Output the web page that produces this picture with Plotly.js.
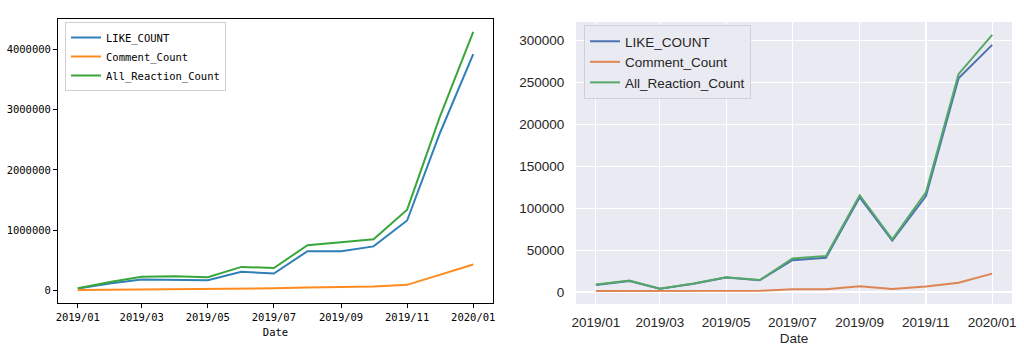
<!DOCTYPE html>
<html>
<head>
<meta charset="utf-8">
<script src="https://cdn.plot.ly/plotly-3.0.1.min.js"></script>
<style>html,body{margin:0;padding:0;background:#fff;}#chart{width:1024px;height:357px;}</style>
</head>
<body>
<div id="chart"></div>
<script>
// Monthly dates
const months = ['2019-01-01','2019-02-01','2019-03-01','2019-04-01','2019-05-01','2019-06-01','2019-07-01',
                '2019-08-01','2019-09-01','2019-10-01','2019-11-01','2019-12-01','2020-01-01'];
const seriesNames = ['LIKE_COUNT','Comment_Count','All_Reaction_Count'];

// Left chart values
const leftLike    = [30000,120000,180000,180000,170000,310000,280000,650000,650000,730000,1160000,2600000,3920000];
const leftComment = [5000,10000,20000,25000,20000,30000,35000,50000,60000,65000,92000,260000,430000];
const leftAll     = [35000,145000,225000,235000,220000,390000,370000,750000,800000,850000,1340000,2870000,4290000];

// Right chart values
const rightLike    = [8500,13200,3800,10000,17300,14000,38000,41000,113000,61500,114500,255000,295000];
const rightComment = [1200,1300,1000,1300,1600,1400,3300,3300,6800,3500,6500,11000,22000];
const rightAll     = [9000,13600,4000,10300,17600,14300,40000,43000,115500,63000,119000,260000,307000];

// Tick labels
const xTickVals = ['2019-01-01','2019-03-01','2019-05-01','2019-07-01','2019-09-01','2019-11-01','2020-01-01'];
const xTickText = ['2019/01','2019/03','2019/05','2019/07','2019/09','2019/11','2020/01'];
const leftYTicks = [0,1000000,2000000,3000000,4000000];
const rightYTicks = [0,50000,100000,150000,200000,250000,300000];

const leftColors = ['#2f7fb8','#ff8a1e','#3aa63a'];
const rightColors = ['#4c72b0','#dd8452','#55a868'];

function pad(vals, frac){
  const mn = Math.min(...vals), mx = Math.max(...vals), s = mx - mn;
  return [mn - s*frac, mx + s*frac];
}
const t0 = new Date('2019-01-01T00:00:00Z').getTime(), t1 = new Date('2020-01-01T00:00:00Z').getTime();
const dt = (t1 - t0) * 0.05;
const iso = t => new Date(t).toISOString().replace('T',' ').replace('Z','').slice(0,19);
const xRange = [iso(t0 - dt), iso(t1 + dt)];

const monoFont = 'DejaVu Sans Mono, Liberation Mono, monospace';
const sansFont = 'Liberation Sans, Arial, sans-serif';

const leftData = [leftLike, leftComment, leftAll];
const rightData = [rightLike, rightComment, rightAll];
const traces = [];
leftData.forEach((d,i)=>traces.push({x:months,y:d,name:seriesNames[i],type:'scatter',mode:'lines',
  line:{color:leftColors[i],width:2},xaxis:'x',yaxis:'y',legend:'legend'}));
rightData.forEach((d,i)=>traces.push({x:months,y:d,name:seriesNames[i],type:'scatter',mode:'lines',
  line:{color:rightColors[i],width:2},xaxis:'x2',yaxis:'y2',legend:'legend2'}));

const layout = {
  width:1024, height:357,
  margin:{l:0,r:0,t:0,b:0},
  paper_bgcolor:'#ffffff', plot_bgcolor:'#ffffff',
  showlegend:true,
  shapes:[{type:'rect',xref:'x2 domain',yref:'y2 domain',x0:0,x1:1,y0:0,y1:1,fillcolor:'#eaeaf2',line:{width:0},layer:'below'}],
  xaxis:{domain:[58/1024,493/1024],anchor:'y',type:'date',range:xRange,
    tickvals:xTickVals,ticktext:xTickText,ticks:'outside',ticklen:4,tickcolor:'#000',
    showgrid:false,zeroline:false,showline:true,linecolor:'#000',linewidth:1,mirror:true,
    tickfont:{family:monoFont,size:10.5,color:'#000'},
    title:{text:'Date',font:{family:monoFont,size:10.5,color:'#000'},standoff:7},automargin:false},
  yaxis:{domain:[1-303/357,1-19/357],anchor:'x',range:pad(leftAll.concat(leftComment),0.05),
    tickvals:leftYTicks,tickformat:'d',ticks:'outside',ticklen:4,tickcolor:'#000',
    showgrid:false,zeroline:false,showline:true,linecolor:'#000',linewidth:1,mirror:true,
    tickfont:{family:monoFont,size:10.5,color:'#000'},automargin:false},
  xaxis2:{domain:[576/1024,1012/1024],anchor:'y2',type:'date',range:xRange,
    tickvals:xTickVals,ticktext:xTickText,ticks:'outside',ticklen:6,tickcolor:'rgba(0,0,0,0)',
    showgrid:true,gridcolor:'#ffffff',gridwidth:1.2,zeroline:false,showline:false,
    tickfont:{family:sansFont,size:13.5,color:'#262626'},
    title:{text:'Date',font:{family:sansFont,size:13.5,color:'#262626'},standoff:4},automargin:false},
  yaxis2:{domain:[1-304/357,1-22/357],anchor:'x2',range:pad(rightAll.concat(rightComment),0.05),
    tickvals:rightYTicks,tickformat:'d',ticks:'outside',ticklen:8,tickcolor:'rgba(0,0,0,0)',
    showgrid:true,gridcolor:'#ffffff',gridwidth:1.2,zeroline:false,showline:false,
    tickfont:{family:sansFont,size:13.5,color:'#262626'},automargin:false},
  legend:{x:65/1024,y:1-22/357,xanchor:'left',yanchor:'top',bgcolor:'rgba(255,255,255,0.9)',
    bordercolor:'#d0d0d0',borderwidth:1,font:{family:monoFont,size:10.5,color:'#000'},
    tracegroupgap:0,itemwidth:30},
  legend2:{x:584/1024,y:1-25/357,xanchor:'left',yanchor:'top',bgcolor:'#eaeaf2',
    bordercolor:'#d0d0d8',borderwidth:1,font:{family:sansFont,size:13.5,color:'#262626'},
    tracegroupgap:0,itemwidth:30}
};

Plotly.newPlot('chart', traces, layout, {staticPlot:true, displayModeBar:false});
</script>
</body>
</html>
